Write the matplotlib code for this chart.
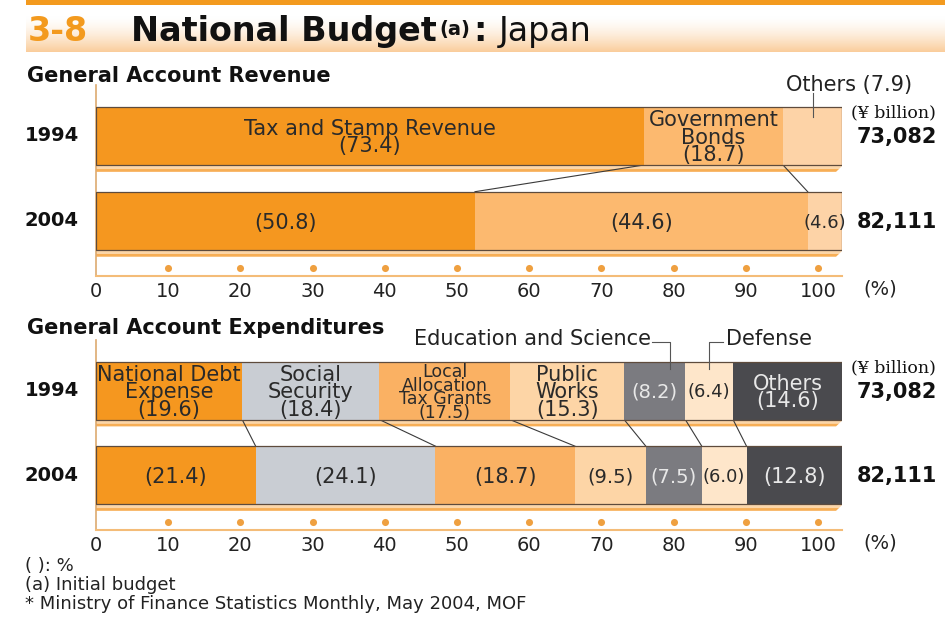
import matplotlib.pyplot as plt
import numpy as np
from matplotlib.patches import Rectangle, Polygon

# ---- data ----
years = ["1994", "2004"]
totals = ["73,082", "82,111"]
pct_ticks = [0, 10, 20, 30, 40, 50, 60, 70, 80, 90, 100]

rev_names = ["Tax and Stamp Revenue", "Government\nBonds", "Others"]
rev_1994 = [73.4, 18.7, 7.9]
rev_2004 = [50.8, 44.6, 4.6]

exp_names = ["National Debt\nExpense", "Social\nSecurity", "Local\nAllocation\nTax Grants",
             "Public\nWorks", "Education and Science", "Defense", "Others"]
exp_1994 = [19.6, 18.4, 17.5, 15.3, 8.2, 6.4, 14.6]
exp_2004 = [21.4, 24.1, 18.7, 9.5, 7.5, 6.0, 12.8]

# ---- style ----
rev_colors = ["#F5971F", "#FCB96F", "#FDD3A7"]
exp_colors = ["#F5971F", "#C9CDD3", "#FAB163", "#FDD5A6", "#7B7B80", "#FEE6CA", "#4A4A4E"]
exp_text = ["#2a2a2a", "#2a2a2a", "#2a2a2a", "#2a2a2a", "#E8E8E8", "#2a2a2a", "#E8E8E8"]
rev_text = ["#2a2a2a"] * 3
ORANGE = "#F39A1E"
DARK = "#222222"

W, H = 950, 634
fig = plt.figure(figsize=(W / 100, H / 100), dpi=100)


def fig_rect(x0, y0, x1, y1):
    return [x0 / W, 1 - y1 / H, (x1 - x0) / W, (y1 - y0) / H]


bg = fig.add_axes([0, 0, 1, 1], zorder=0)

# header band
bg.add_patch(Rectangle((26, 0), 919, 5, color=ORANGE, lw=0))
grad = np.linspace(0, 1, 64)[:, None] ** 1.5
peach = np.array([250, 205, 155]) / 255
img = np.ones((64, 2, 3)) * (1 - grad[..., None]) + peach * grad[..., None]
bg.imshow(img, extent=[26, 945, 52, 16], aspect="auto", zorder=0)
bg.set_xlim(0, W)
bg.set_ylim(H, 0)
bg.axis("off")

# title, chained left to right
renderer = fig.canvas.get_renderer()


def right_edge(t):
    return bg.transData.inverted().transform(t.get_window_extent(renderer))[1][0]


bg.text(28, 41, "3-8", fontsize=24, fontweight="bold", color=ORANGE, va="baseline")
t1 = bg.text(131, 41, "National Budget", fontsize=24, fontweight="bold", color="#111", va="baseline")
t2 = bg.text(right_edge(t1) + 3, 29, "(a)", fontsize=14, fontweight="bold", color="#111", va="center")
t3 = bg.text(right_edge(t2) + 3, 41, ":", fontsize=24, fontweight="bold", color="#111", va="baseline")
bg.text(right_edge(t3) + 12, 41, "Japan", fontsize=24, color="#111", va="baseline")

bg.text(27, 76, "General Account Revenue", fontsize=15, fontweight="bold", color="#111", va="center")
bg.text(27, 328, "General Account Expenditures", fontsize=15, fontweight="bold", color="#111", va="center")

# footnotes
for y, s in zip([566, 585, 604], ["( ): %", "(a) Initial budget",
                                   "* Ministry of Finance Statistics Monthly, May 2004, MOF"]):
    bg.text(25, y, s, fontsize=13, color=DARK, va="center")

BAR_H = 0.686


def draw_panel(top, bottom, v94, v04, names, colors, tcolors, inner, skip):
    ax = fig.add_axes(fig_rect(96, top, 842, bottom), zorder=2)
    ax.set_xlim(0, 100)
    ax.set_ylim(1.65, -0.60)
    ax.patch.set_alpha(0)
    for s in ["top", "right"]:
        ax.spines[s].set_visible(False)
    ax.spines["left"].set_color("#DDAA70")
    ax.spines["bottom"].set_color("#F4BC78")
    ax.spines["left"].set_linewidth(1.2)
    ax.spines["bottom"].set_linewidth(1.5)
    ax.set_xticks([])
    ax.set_yticks([])

    cums = []
    for yi, vals in enumerate([v94, v04]):
        left = np.concatenate([[0], np.cumsum(vals)[:-1]])
        cums.append(np.cumsum(vals))
        ax.barh(yi, vals, left=left, height=BAR_H, color=colors, lw=0, zorder=2)
        yb = yi + BAR_H / 2
        ax.add_patch(Rectangle((0, yi - BAR_H / 2), sum(vals), BAR_H, fill=False,
                               ec="#5E4B3C", lw=0.9, zorder=3))
        # shadow strip under the bar
        ax.add_patch(Polygon([(0, yb + 0.012), (100, yb + 0.012), (99.6, yb + 0.047), (0, yb + 0.047)],
                             closed=True, color="#FCD6A8", lw=0, zorder=1))
        ax.add_patch(Polygon([(0, yb + 0.047), (99.6, yb + 0.047), (99.2, yb + 0.08), (0, yb + 0.08)],
                             closed=True, color="#F7AE55", lw=0, zorder=1))
        for i, (l, v) in enumerate(zip(left, vals)):
            if yi == 0 and i in skip:
                continue
            if yi == 0 and i in inner:
                lab = f"{names[i]}\n({v:.1f})"
            else:
                lab = f"({v:.1f})"
            nlines = lab.count("\n") + 1
            fam, ls = "DejaVu Sans", 0.84
            if v < 7:
                fs, fam = 13, "Liberation Sans Narrow"
            elif nlines >= 4:
                fs, ls = 12.5, 0.69
            elif v < 10:
                fs = 14
            else:
                fs = 15
            ax.text(l + v / 2, yi + 0.02, lab, ha="center", va="center", fontsize=fs,
                    family=[fam, "DejaVu Sans"], color=tcolors[i], linespacing=ls, zorder=4)
        ax.text(-5.9, yi, years[yi], ha="center", va="center", fontsize=14,
                fontweight="bold", color="#111", clip_on=False)
        ax.text(107.4, yi + 0.01, totals[yi], ha="center", va="center", fontsize=15,
                fontweight="bold", color="#111", clip_on=False)
    ax.text(106.9, -0.27, "(\u00a5 billion)", ha="center", va="center", fontsize=12.5,
            family="DejaVu Serif", color="#111", clip_on=False)

    # connector lines between matching boundaries
    for a, b in zip(cums[0][:-1], cums[1][:-1]):
        ax.plot([a, b], [BAR_H / 2, 1 - BAR_H / 2], color="#3a3a3a", lw=0.8, zorder=1)

    # percentage scale with dots
    sc = fig.add_axes(fig_rect(96, top, 818, bottom), zorder=1)
    sc.set_xlim(0, 100)
    sc.set_ylim(1.65, -0.60)
    sc.patch.set_alpha(0)
    for s in sc.spines.values():
        s.set_visible(False)
    sc.set_yticks([])
    sc.set_xticks(pct_ticks)
    sc.set_xticklabels([str(t) for t in pct_ticks], fontsize=14, color=DARK)
    sc.tick_params(axis="x", length=0, pad=4)
    sc.scatter(pct_ticks[1:], [1.56] * (len(pct_ticks) - 1), s=26, color="#EFA040", lw=0,
               zorder=3, clip_on=False)
    sc.text(108.6, 1.80, "(%)", ha="center", va="center", fontsize=14, color=DARK, clip_on=False)
    return ax, sc, cums


ax1, sc1, c1 = draw_panel(85, 276, rev_1994, rev_2004, rev_names, rev_colors, rev_text,
                          inner=[0, 1], skip=[2])
ax2, sc2, c2 = draw_panel(340, 530, exp_1994, exp_2004, exp_names, exp_colors, exp_text,
                          inner=[0, 1, 2, 3, 6], skip=[])

# call-out labels above the 1994 bars
oth_mid = c1[0][1] + rev_1994[2] / 2
ax1.plot([oth_mid, oth_mid], [-0.51, -0.22], color="#555", lw=0.8, zorder=4, clip_on=False)
ax1.text(101, -0.60, f"{rev_names[2]} ({rev_1994[2]:.1f})", ha="center", va="center",
         fontsize=15, color=DARK, clip_on=False)

edu_x = c2[0][3] + 0.75 * exp_1994[4]
ax2.plot([edu_x - 2.4, edu_x, edu_x], [-0.58, -0.58, -0.26], color="#555", lw=0.8, zorder=4, clip_on=False)
ax2.text(edu_x - 2.6, -0.61, exp_names[4], ha="right", va="center", fontsize=15,
         color=DARK, clip_on=False)
def_x = c2[0][4] + exp_1994[5] / 2
ax2.plot([def_x, def_x, def_x + 1.9], [-0.26, -0.58, -0.58], color="#555", lw=0.8, zorder=4, clip_on=False)
ax2.text(def_x + 2.2, -0.61, exp_names[5], ha="left", va="center", fontsize=15,
         color=DARK, clip_on=False)

plt.savefig("out.png", dpi=100)
